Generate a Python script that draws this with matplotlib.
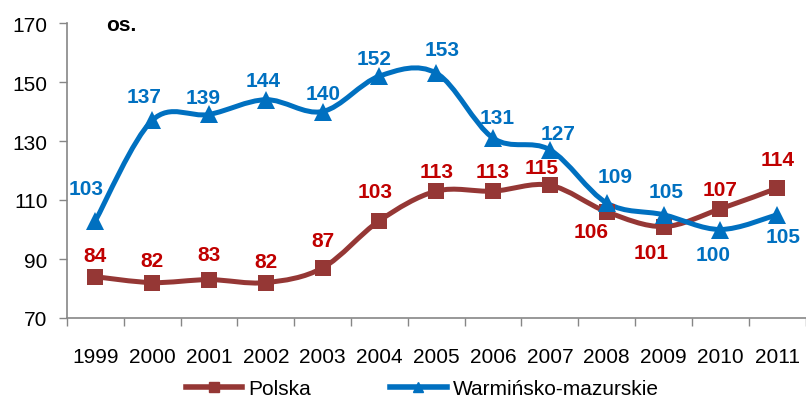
import matplotlib
matplotlib.use("Agg")
import matplotlib.pyplot as plt
from matplotlib.path import Path
from matplotlib.patches import PathPatch
from matplotlib.lines import Line2D
import numpy as np

plt.rcParams['font.family'] = ['Liberation Sans', 'DejaVu Sans']

years = ['1999', '2000', '2001', '2002', '2003', '2004', '2005',
         '2006', '2007', '2008', '2009', '2010', '2011']
polska = [84, 82, 83, 82, 87, 103, 113, 113, 115, 106, 101, 107, 114]
warm = [103, 137, 139, 144, 140, 152, 153, 131, 127, 109, 105, 100, 105]
series_names = ['Polska', 'Warmińsko-mazurskie']
yticks = [70, 90, 110, 130, 150, 170]

c_pol = '#953735'
c_pol_lab = '#C00000'
c_war = '#0070C0'

# label centre offsets (points) per point: (dx, dy)
pol_off = [(0, 15), (0, 16), (0, 18), (0, 15), (0, 20), (-3, 21), (0, 14), (0, 14),
           (-6, 13), (-11.5, -14), (-9, -19), (0, 14), (0, 21)]
war_off = [(-7, 23), (-6, 17), (-4, 12), (-2, 14), (0, 13), (-4, 13), (4, 17), (3, 15),
           (6, 12), (6, 19), (2, 17), (-5, -18), (4, -16)]

fig = plt.figure(figsize=(8.06, 4.02), dpi=100)
ax = fig.add_axes([67/806, 1-319/402, (806-67)/806 + 0.01, 295/402])

x = np.arange(len(years))


def smooth_path(xs, ys):
    pts = np.column_stack([xs, ys]).astype(float)
    verts = [pts[0]]
    codes = [Path.MOVETO]
    n = len(pts)
    for i in range(n - 1):
        p0 = pts[i - 1] if i > 0 else pts[i]
        p1 = pts[i]
        p2 = pts[i + 1]
        p3 = pts[i + 2] if i + 2 < n else pts[i + 1]
        c1 = p1 + (p2 - p0) / 6.0
        c2 = p2 - (p3 - p1) / 6.0
        verts += [c1, c2, p2]
        codes += [Path.CURVE4] * 3
    return Path(verts, codes)


for vals, col, mk, ms in [(polska, c_pol, 's', 11.5), (warm, c_war, '^', 13)]:
    patch = PathPatch(smooth_path(x, vals), facecolor='none', edgecolor=col,
                      lw=3.6, capstyle='round', joinstyle='round', zorder=2)
    ax.add_patch(patch)
    ax.plot(x, vals, linestyle='none', marker=mk, color=col, markersize=ms,
            markeredgewidth=0, zorder=3)

for xi, v, off in zip(x, polska, pol_off):
    ax.annotate(str(v), (xi, v), xytext=off, textcoords='offset points',
                ha='center', va='center', color=c_pol_lab, fontsize=15,
                fontweight='bold', zorder=5)
for xi, v, off in zip(x, warm, war_off):
    ax.annotate(str(v), (xi, v), xytext=off, textcoords='offset points',
                ha='center', va='center', color=c_war, fontsize=15,
                fontweight='bold', zorder=5)

ax.set_xlim(-0.5, len(years) - 0.5 + 0.15)
ax.set_ylim(70, 170)
ax.set_yticks(yticks)
ax.set_yticklabels([str(t) for t in yticks], fontsize=15)
ax.set_xticks(x)
ax.set_xticklabels(years, fontsize=15)
ax.set_xticks(np.arange(len(years) + 1) - 0.5, minor=True)
ax.tick_params(axis='x', which='major', length=0, pad=21)
ax.tick_params(axis='x', which='minor', length=6, color='#868686', width=1)
ax.tick_params(axis='y', length=6, color='#868686', width=1, pad=8)

for s in ['top', 'right']:
    ax.spines[s].set_visible(False)
for s in ['left', 'bottom']:
    ax.spines[s].set_color('#868686')
    ax.spines[s].set_linewidth(1.2)

ax.text(0.052, 0.995, 'os.', transform=ax.transAxes, fontsize=15,
        fontweight='bold', va='center', ha='left')

handles = [Line2D([], [], color=c_pol, lw=4, marker='s', markersize=7),
           Line2D([], [], color=c_war, lw=4, marker='^', markersize=7)]
fig.legend(handles, series_names, loc='center', bbox_to_anchor=(0.524, 0.03),
           ncol=2, frameon=False, fontsize=15, handlelength=2.7, handletextpad=0.3,
           columnspacing=3.8)

fig.savefig('out.png', dpi=100)
